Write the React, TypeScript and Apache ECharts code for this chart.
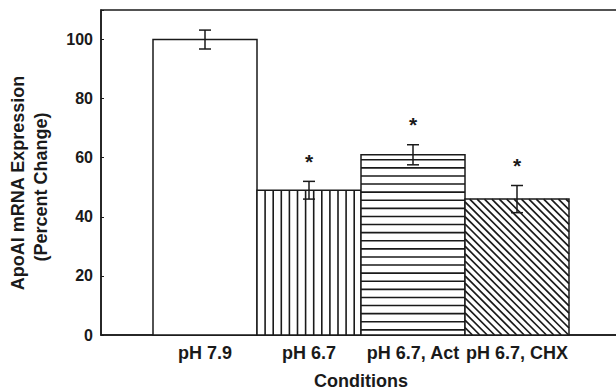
import React, { useEffect, useRef } from "react";
import * as echarts from "echarts";

const categories = ["pH 7.9", "pH 6.7", "pH 6.7, Act", "pH 6.7, CHX"];
const means = [100, 49, 61, 46];
const errors = [3.2, 3, 3.4, 4.6];
const significant = [false, true, true, true];
const patterns = ["none", "vertical", "horizontal", "diagonal"];
const yTicks = [0, 20, 40, 60, 80, 100];

const FONT = "'Liberation Sans', Arial, Helvetica, sans-serif";
const INK = "#1a1a1a";

export default function App() {
  const ref = useRef<HTMLDivElement>(null);
  useEffect(() => {
    if (!ref.current) return;
    const chart = echarts.init(ref.current, undefined, { renderer: "svg" });
    const data = categories.map((c, i) => [i + 1, means[i], errors[i], significant[i] ? 1 : 0, i]);

    const renderItem = (params: any, api: any) => {
      const xv = api.value(0);
      const yv = api.value(1);
      const ev = api.value(2);
      const sig = api.value(3);
      const idx = api.value(4);
      const [cx, y0] = api.coord([xv, 0]);
      const yTop = api.coord([xv, yv])[1];
      const w = api.size([1, 0])[0];
      const left = cx - w / 2;
      const right = cx + w / 2;
      const h = y0 - yTop;
      const children: any[] = [];
      children.push({
        type: "rect",
        shape: { x: left, y: yTop, width: w, height: h },
        style: { fill: "#fff", stroke: "none" },
      });
      const lineStyle = { stroke: INK, lineWidth: 1.6 };
      const pat = patterns[idx];
      if (pat === "vertical") {
        const s = 8.1;
        for (let xx = left + s; xx < right - 2; xx += s) {
          children.push({ type: "line", shape: { x1: xx, y1: yTop, x2: xx, y2: y0 }, style: lineStyle });
        }
      } else if (pat === "horizontal") {
        const s = 8.1;
        for (let yy = yTop + 5; yy < y0 - 2; yy += s) {
          children.push({ type: "line", shape: { x1: left, y1: yy, x2: right, y2: yy }, style: lineStyle });
        }
      } else if (pat === "diagonal") {
        const d = 7.4;
        for (let c = left - h; c < right; c += d) {
          const t0 = Math.max(0, left - c);
          const t1 = Math.min(h, right - c);
          if (t1 > t0) {
            children.push({
              type: "line",
              shape: { x1: c + t0, y1: yTop + t0, x2: c + t1, y2: yTop + t1 },
              style: { stroke: INK, lineWidth: 1.7 },
            });
          }
        }
      }
      children.push({
        type: "rect",
        shape: { x: left, y: yTop, width: w, height: h },
        style: { fill: "none", stroke: INK, lineWidth: 1.5 },
      });
      const eTop = api.coord([xv, yv + ev])[1];
      const eBot = api.coord([xv, yv - ev])[1];
      const ebStyle = { stroke: INK, lineWidth: 1.5 };
      children.push({ type: "line", shape: { x1: cx, y1: eTop, x2: cx, y2: eBot }, style: ebStyle });
      children.push({ type: "line", shape: { x1: cx - 6, y1: eTop, x2: cx + 6, y2: eTop }, style: ebStyle });
      children.push({ type: "line", shape: { x1: cx - 6, y1: eBot, x2: cx + 6, y2: eBot }, style: ebStyle });
      if (sig) {
        children.push({
          type: "text",
          style: {
            x: cx,
            y: eTop - 20,
            text: "*",
            fill: INK,
            font: `bold 21px ${FONT}`,
            align: "center",
            verticalAlign: "middle",
          },
        });
      }
      return { type: "group", children };
    };

    chart.setOption({
      animation: false,
      grid: {
        left: 101,
        top: 10,
        width: 520,
        height: 325,
        show: true,
        borderColor: INK,
        borderWidth: 1.5,
        backgroundColor: "transparent",
        outerBoundsMode: "none",
        containLabel: false,
      },
      xAxis: {
        type: "value",
        min: 0,
        max: 5,
        interval: 1,
        splitLine: { show: false },
        axisTick: { show: false },
        axisLine: { show: true, lineStyle: { color: INK, width: 1.5 } },
        axisLabel: {
          margin: 9,
          color: INK,
          fontFamily: FONT,
          fontWeight: "bold",
          fontSize: 18,
          formatter: (v: number) => (v >= 1 && v <= categories.length ? categories[v - 1] : ""),
        },
        name: "Conditions",
        nameLocation: "middle",
        nameGap: 37,
        nameTextStyle: { color: INK, fontFamily: FONT, fontWeight: "bold", fontSize: 18 },
      },
      yAxis: {
        type: "value",
        min: 0,
        max: 110,
        interval: 20,
        splitLine: { show: false },
        axisLine: { show: true, lineStyle: { color: INK, width: 1.5 } },
        axisTick: { show: true, inside: true, length: 3, lineStyle: { color: INK, width: 1 } },
        axisLabel: {
          margin: 8,
          color: INK,
          fontFamily: FONT,
          fontWeight: "bold",
          fontSize: 16,
          formatter: (v: number) => (yTicks.includes(v) ? String(v) : ""),
        },
      },
      graphic: [
        {
          type: "text",
          x: 18,
          y: 183,
          rotation: Math.PI / 2,
          style: {
            text: "ApoAI mRNA Expression",
            fill: INK,
            font: `bold 18px ${FONT}`,
            align: "center",
            verticalAlign: "middle",
          },
        },
        {
          type: "text",
          x: 41,
          y: 187,
          rotation: Math.PI / 2,
          style: {
            text: "(Percent Change)",
            fill: INK,
            font: `bold 18px ${FONT}`,
            align: "center",
            verticalAlign: "middle",
          },
        },
      ],
      series: [
        {
          type: "custom",
          renderItem,
          data,
          encode: { x: 0, y: 1 },
          clip: false,
        },
      ],
    });
    return () => chart.dispose();
  }, []);
  return <div ref={ref} style={{ width: 616, height: 391, position: "absolute", left: 0, top: 0 }} />;
}
